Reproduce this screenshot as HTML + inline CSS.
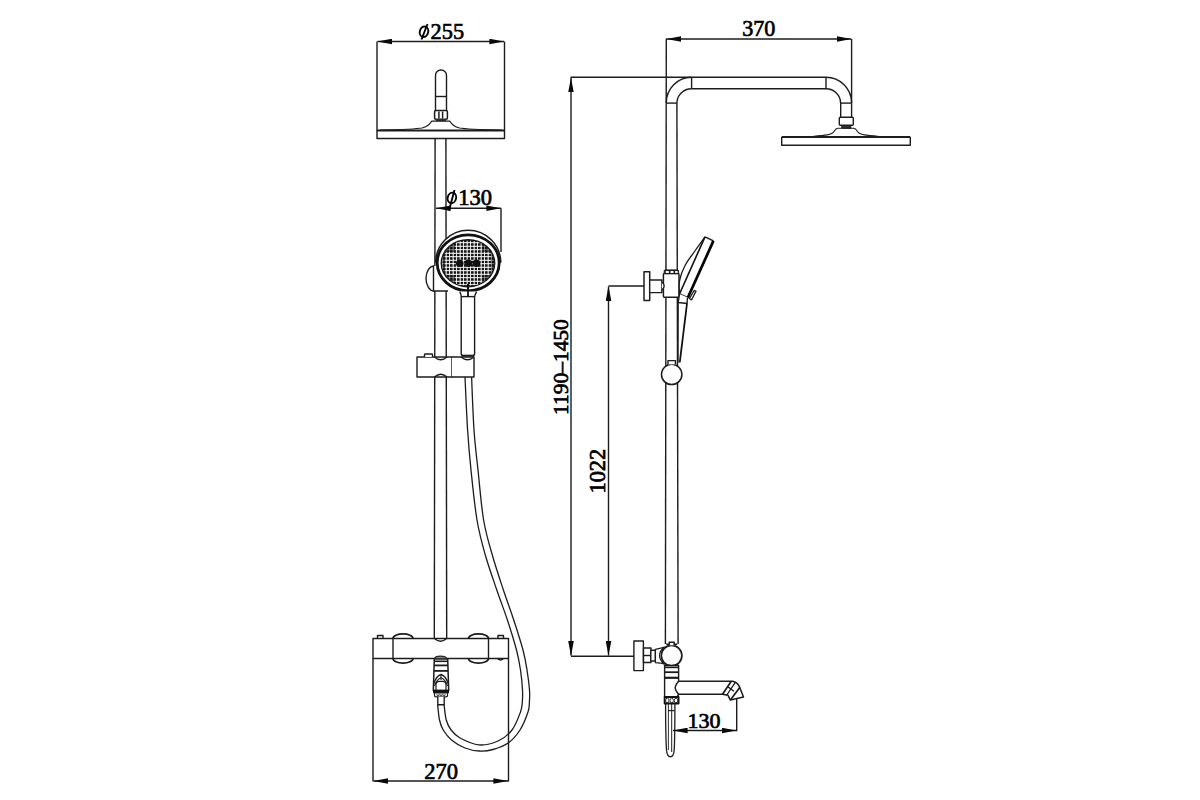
<!DOCTYPE html>
<html><head><meta charset="utf-8"><title>Shower system drawing</title>
<style>
html,body{margin:0;padding:0;background:#fff;width:1200px;height:800px;overflow:hidden}
svg{display:block}
text{font-family:"Liberation Serif",serif;fill:#000}
</style></head>
<body>
<svg width="1200" height="800" viewBox="0 0 1200 800">
<defs>
<marker id="ar" viewBox="0 0 15 6" refX="14.6" refY="3" markerWidth="15" markerHeight="6" markerUnits="userSpaceOnUse" orient="auto-start-reverse"><path d="M0,0.2 L15,3 L0,5.8 z" fill="#0a0a0a"/></marker>
<pattern id="grid" width="3.5" height="3.5" patternUnits="userSpaceOnUse" x="1.2" y="0.8"><path d="M0,0H3.5M0,0V3.5" stroke="#fff" stroke-width="0.8" fill="none"/></pattern>
<pattern id="grid2" width="3.5" height="3.5" patternUnits="userSpaceOnUse" x="1.2" y="0.8"><path d="M0,0H3.5M0,0V3.5" stroke="#fff" stroke-width="1.6" fill="none"/></pattern>
<mask id="ring"><rect x="455" y="241" width="27" height="44" rx="3" fill="#fff"/><rect x="445" y="252" width="46" height="23" rx="3" fill="#fff"/></mask>
<clipPath id="faceclip"><ellipse cx="467.5" cy="264.5" rx="28.5" ry="26.5"/></clipPath>
</defs>
<g fill="none" stroke="#1c1c1c" stroke-width="1.4" stroke-linejoin="round">

<!-- ================= LEFT VIEW ================= -->
<!-- dimension phi255 -->
<line x1="377" y1="41.5" x2="377" y2="131"/>
<line x1="504.5" y1="41.5" x2="504.5" y2="131"/>
<line x1="377.5" y1="41.5" x2="504" y2="41.5" marker-start="url(#ar)" marker-end="url(#ar)"/>

<!-- overhead shower head (front) -->
<path d="M435.5,111 V75.5 A5.5,5.5 0 0 1 446.5,75.5 V111"/>
<line x1="435.5" y1="96.5" x2="446.5" y2="96.5"/>
<rect x="434.6" y="110.6" width="12.8" height="8.6" rx="1.2" stroke-width="1.5"/>
<line x1="438.9" y1="111.5" x2="438.9" y2="118.5" stroke-width="1.5"/>
<line x1="442.6" y1="111.5" x2="442.6" y2="118.5" stroke-width="1.5"/>
<rect x="436" y="119.2" width="10" height="1.9" fill="#333" stroke="none"/>
<path d="M380,130 C400,129.6 415,129.3 422,128 C428,126.5 430.3,123.5 431.6,121.2 H449.9 C451.2,123.5 453.5,126.5 459.5,128 C466.5,129.3 481,129.6 502,130" stroke-width="1.2"/>
<line x1="377" y1="130.5" x2="504.5" y2="130.5" stroke-width="2.2"/>
<path d="M377,130.5 V138.5 H504.5 V130.5"/>

<!-- vertical rail -->
<line x1="435.1" y1="138.5" x2="434.3" y2="641"/>
<line x1="445.9" y1="138.5" x2="446.7" y2="641"/>

<!-- dimension phi130 -->
<line x1="436" y1="208.2" x2="501" y2="208.2" marker-start="url(#ar)" marker-end="url(#ar)"/>
<line x1="501" y1="208.2" x2="501" y2="252"/>

<!-- holder on rail behind head -->
<path d="M434,266 A8,12.5 0 0 0 434,291 Z" fill="#fff"/>
<rect x="433.5" y="266" width="15" height="25" fill="#fff" stroke="none"/>
<path d="M433.5,266 V291 H448"/>

<!-- hand shower head -->
<path d="M435.6,262.8 A32.6,32.6 0 0 1 500.8,262.8" stroke-width="1.5" fill="#fff"/>
<ellipse cx="468.2" cy="262.8" rx="31" ry="28" fill="#fff" stroke="#111" stroke-width="2.8"/>
<ellipse cx="468" cy="263.2" rx="27.4" ry="24.2" fill="#161616" stroke="none"/>
<ellipse cx="468" cy="263.2" rx="26.2" ry="23" fill="url(#grid)" stroke="none"/>
<ellipse cx="468" cy="263.2" rx="26.2" ry="23" fill="url(#grid2)" stroke="none" mask="url(#ring)"/>
<g fill="#111" stroke="none">
<circle cx="459.7" cy="263.3" r="3.8"/>
<circle cx="468.3" cy="263.3" r="3.8"/>
<circle cx="476.4" cy="263.3" r="3.8"/>
</g>
<line x1="468" y1="284" x2="468" y2="296.5" stroke="#111" stroke-width="2"/>
<!-- neck + handle -->
<path d="M459.8,291.6 C460.8,293.5 461.2,295.5 461.2,297 V353.8 Q461.2,355.6 463,355.6 H472.8 Q474.6,355.6 474.6,353.8 V297 C474.8,295.5 475.5,293.5 476.6,291.6" fill="#fff"/>
<line x1="462" y1="355.6" x2="474" y2="355.6" stroke-width="1.8"/>
<line x1="461.2" y1="296.6" x2="474.8" y2="296.6"/>
<line x1="468" y1="286" x2="468" y2="297" stroke="#111" stroke-width="1.8"/>

<!-- slide holder -->
<path d="M417,357 H452 V377 H417 Z" fill="#fff"/>
<path d="M452,357 H474 V377 H452" fill="#fff"/>
<path d="M434.5,357 Q440.75,362.5 447,357"/>
<path d="M434.5,377 Q440.75,371.5 447,377"/>
<path d="M461,357 Q467.5,362.5 474,357"/>
<path d="M424.5,357 V354.5 Q424.5,354 425.5,354 H431.5 Q432.5,354 432.5,354.5 V357" fill="#fff"/>

<!-- hose -->
<path d="M465.00,377.00 C465.43,385.83 466.60,414.50 467.60,430.00 C468.60,445.50 469.43,455.00 471.00,470.00 C472.57,485.00 474.62,505.83 477.00,520.00 C479.38,534.17 482.00,543.33 485.30,555.00 C488.60,566.67 493.12,579.17 496.80,590.00 C500.48,600.83 504.12,610.00 507.40,620.00 C510.68,630.00 514.32,641.67 516.50,650.00 C518.68,658.33 519.50,663.33 520.50,670.00 C521.50,676.67 522.20,684.67 522.50,690.00 C522.80,695.33 522.63,698.33 522.30,702.00 C521.97,705.67 522.22,707.33 520.50,712.00 C518.78,716.67 515.75,725.17 512.00,730.00 C508.25,734.83 503.50,738.52 498.00,741.00 C492.50,743.48 485.33,745.40 479.00,744.90 C472.67,744.40 464.65,740.48 460.00,738.00 C455.35,735.52 453.39,733.00 451.10,730.00 C448.81,727.00 447.43,724.32 446.25,720.00 C445.07,715.68 444.38,706.75 444.00,704.10" stroke-width="1.3"/>
<path d="M471.60,377.00 C472.00,385.83 472.93,414.50 474.00,430.00 C475.07,445.50 476.40,455.00 478.00,470.00 C479.60,485.00 481.22,505.83 483.60,520.00 C485.98,534.17 489.00,543.33 492.30,555.00 C495.60,566.67 499.82,579.17 503.40,590.00 C506.97,600.83 510.48,610.00 513.75,620.00 C517.02,630.00 520.79,641.67 523.00,650.00 C525.21,658.33 525.92,663.33 527.00,670.00 C528.08,676.67 529.10,684.67 529.50,690.00 C529.90,695.33 529.65,698.33 529.40,702.00 C529.15,705.67 529.57,707.33 528.00,712.00 C526.43,716.67 523.25,724.88 520.00,730.00 C516.75,735.12 513.00,739.50 508.50,742.75 C504.00,746.00 497.88,748.12 493.00,749.50 C488.12,750.88 483.92,751.25 479.25,751.00 C474.58,750.75 469.62,749.83 465.00,748.00 C460.38,746.17 455.12,743.00 451.50,740.00 C447.88,737.00 445.25,733.33 443.25,730.00 C441.25,726.67 440.44,724.32 439.50,720.00 C438.56,715.68 437.92,706.75 437.60,704.10" stroke-width="1.3"/>

<!-- mixer -->
<rect x="373" y="638.5" width="135.5" height="20" fill="#fff"/>
<line x1="393" y1="638.5" x2="393" y2="658.5"/>
<line x1="488.5" y1="638.5" x2="488.5" y2="658.5"/>
<path d="M393,638.5 A10,4.6 0 0 1 413,638.5" stroke-width="1.7"/>
<path d="M393,658.5 A10,4.6 0 0 0 413,658.5" stroke-width="1.7"/>
<path d="M468.5,638.5 A10,4.6 0 0 1 488.5,638.5" stroke-width="1.7"/>
<path d="M468.5,658.5 A10,4.6 0 0 0 488.5,658.5" stroke-width="1.7"/>
<path d="M434.5,638.5 Q440.5,644 446.5,638.5"/>
<path d="M377.5,638.5 V635.5 H383 V638.5" />
<path d="M498,638.5 V635.5 H503.5 V638.5" />
<path d="M497.5,658.5 Q500.5,661.5 503.5,658.5" stroke-width="1.2"/>

<!-- diverter -->
<path d="M434.5,659 Q435,656.2 440.3,656.2 Q446,656.2 446.8,659" fill="#888" stroke="#222" stroke-width="1.2"/>
<path d="M434.3,659 L433.3,690.5 H448.7 L447.7,659 Z" fill="#fff" stroke-width="1.5"/>
<line x1="434.2" y1="661.3" x2="447.8" y2="661.3" stroke-width="1.6"/>
<line x1="434" y1="665.4" x2="448" y2="665.4" stroke-width="1.8"/>
<line x1="433.8" y1="670.9" x2="448.2" y2="670.9" stroke-width="1.8"/>
<path d="M434,683.5 Q436,676 441,674.5 Q446,676 448,683.5" stroke-width="1.4"/>
<path d="M434.5,686 Q437,679 441,677.8 Q445,679 447.5,686" stroke-width="1.1"/>
<line x1="441" y1="674.5" x2="441" y2="680" stroke-width="1.1"/>
<path d="M436,690.5 V684.5 Q436,681.4 439,681.4 H443 Q446,681.4 446,684.5 V690.5" stroke-width="1.2"/>
<rect x="433.5" y="690.3" width="15" height="2.6" fill="#111" stroke="#111" stroke-width="1"/>
<path d="M434.5,692.6 V695.5 Q434.5,696.8 436,696.8 H446 Q447.5,696.8 447.5,695.5 V692.6" stroke-width="1.2"/>
<path d="M437,693.5 V695.5 H439 V693.5 M440,693.5 V695.5 H442 V693.5 M443,693.5 V695.5 H445 V693.5" stroke-width="0.7"/>
<path d="M437.8,696.8 V704.7 H444.2 V696.8" fill="#fff"/>

<!-- ================= RIGHT VIEW ================= -->
<!-- dimension 370 -->
<line x1="666.3" y1="38.5" x2="665.4" y2="644"/>
<line x1="851.6" y1="39" x2="851.6" y2="103"/>
<line x1="666.75" y1="39" x2="851.1" y2="39" marker-start="url(#ar)" marker-end="url(#ar)"/>
<!-- top extension (1190-1450) -->
<line x1="570.6" y1="77.3" x2="691.6" y2="77.3"/>
<!-- arm -->
<line x1="691.6" y1="77.3" x2="826" y2="77.3"/>
<line x1="691.6" y1="88.75" x2="826" y2="88.75"/>
<line x1="691.6" y1="77.3" x2="691.6" y2="88.75"/>
<line x1="826" y1="77.3" x2="826" y2="88.75"/>
<path d="M666.25,103.1 A25.35,25.8 0 0 1 691.6,77.3"/>
<path d="M676.9,103.1 A14.7,14.35 0 0 1 691.6,88.75"/>
<line x1="666.25" y1="103.1" x2="676.9" y2="103.1"/>
<path d="M826,77.3 A25.6,25.8 0 0 1 851.6,103.1"/>
<path d="M826,88.75 A14.6,14.35 0 0 1 840.6,103.1"/>
<line x1="840.6" y1="103.1" x2="851.6" y2="103.1"/>
<line x1="676.9" y1="103.1" x2="678.1" y2="644"/>
<!-- overhead head side -->
<line x1="840.7" y1="103.1" x2="840.7" y2="117.3"/>
<line x1="851.6" y1="103.1" x2="851.6" y2="117.3"/>
<rect x="839.3" y="117.3" width="14" height="8" rx="1"/>
<rect x="841.8" y="125.6" width="9" height="2.6" fill="#333" stroke-width="1"/>
<path d="M812,136.5 C825,135.5 832,135 834,131.5 C835.5,129 836,128.3 838,128.3 H853.5 C855.5,128.3 856,129 857.5,131.5 C859.5,135 867,135.5 880,136.5" stroke-width="1.1"/>
<line x1="781.7" y1="137" x2="910.3" y2="137" stroke-width="2.2"/>
<path d="M781.7,137 V145.3 H910.3 V137"/>

<!-- dimension 1190-1450 -->
<line x1="571" y1="77.8" x2="571" y2="655.6" marker-start="url(#ar)" marker-end="url(#ar)"/>
<line x1="571" y1="656.25" x2="634" y2="656.25"/>
<!-- dimension 1022 -->
<line x1="608.5" y1="286.5" x2="608.5" y2="655.6" marker-start="url(#ar)" marker-end="url(#ar)"/>
<line x1="608.5" y1="286" x2="644.3" y2="286"/>

<!-- upper wall bracket -->
<rect x="644" y="271.7" width="5.7" height="28.7" fill="#fff" stroke-width="1.5"/>
<rect x="649.7" y="280" width="12.1" height="12.6" fill="#fff"/>
<rect x="663.4" y="273.6" width="15.6" height="23.6" rx="1" fill="#fff" stroke-width="1.5"/>
<path d="M661.8,282 Q666.5,286 661.8,290" stroke-width="1.3" fill="#fff"/>
<rect x="664.2" y="269.9" width="14.4" height="3.7" rx="1" fill="#1a1a1a" stroke-width="1"/>
<g fill="#fff" stroke="none"><rect x="665.6" y="271" width="3.4" height="2" rx="0.8"/><rect x="670.3" y="271" width="3.4" height="2" rx="0.8"/><rect x="675" y="271" width="2.8" height="2" rx="0.8"/></g>

<!-- hand shower side -->
<path d="M705.00,236.90 C703.43,239.08 698.88,245.32 695.60,250.00 C692.32,254.68 687.95,260.00 685.30,265.00 C682.65,270.00 680.67,275.17 679.70,280.00 C678.73,284.83 679.53,291.67 679.50,294.00 L687.5,297.5 L713.4,240.9 Z" fill="#fff" stroke="none"/>
<path d="M705.00,236.90 C703.43,239.08 698.88,245.32 695.60,250.00 C692.32,254.68 687.95,260.00 685.30,265.00 C682.65,270.00 680.67,275.17 679.70,280.00 C678.73,284.83 679.53,291.67 679.50,294.00" stroke-width="1.3"/>
<path d="M705,236.9 L713.4,240.9" stroke-width="1.5"/>
<path d="M713.4,240.9 L687.8,297.8" stroke="#000" stroke-width="2.7"/>
<path d="M705,236.9 L679.5,294" stroke="#111" stroke-width="1.6"/>
<path d="M679.5,294 L687.5,297.5" stroke-width="1.5"/>
<path d="M694.2,290.5 L696,291.3 L691.6,299.8 L689.4,298.5 Z" stroke-width="1.4" fill="#fff"/>
<path d="M679.5,294 L678.2,302.5 L687,303.5 L687.5,297.5" fill="#fff" stroke-width="1.4"/>
<path d="M678.2,302.5 L678,362.5" stroke-width="1.3"/>
<path d="M687,303.5 L679.75,362.5" stroke="#111" stroke-width="1.8"/>

<!-- lower slide (circle) -->
<circle cx="671.7" cy="374.4" r="10.2" fill="#fff" stroke-width="1.5"/>
<path d="M668,364.4 V360.6 H675.4 V364.4" fill="#fff"/>

<!-- lower wall bracket + thermostatic valve -->
<rect x="633.9" y="641" width="9.5" height="29.6" fill="#fff"/>
<rect x="643.5" y="648" width="7.5" height="14.5" fill="#fff"/>
<line x1="643.5" y1="655.5" x2="651" y2="655.5"/>
<rect x="650.8" y="650.2" width="4.6" height="10.8" fill="#fff"/>
<path d="M655.4,649.4 L663,647.6 L663,663.4 L655.4,662.6 Z" fill="#fff" stroke-width="1.3"/>
<path d="M664.5,646.5 Q654.5,655.6 664.5,664.7" stroke-width="1.2"/>
<path d="M666.25,644 L670,645 M677.2,644 L673,645"/>
<circle cx="671.6" cy="655.6" r="10.3" fill="#fff" stroke-width="1.7"/>
<path d="M669.2,645.3 V642.2 H674.2 V645.3" fill="#fff" stroke-width="1.5"/>
<!-- body -->
<path d="M664.6,665.5 H678.6 V694.5 L677,697 H664.6 Z" fill="#fff"/>
<line x1="664.6" y1="667.4" x2="678.6" y2="667.4" stroke-width="1.6"/>
<line x1="664.6" y1="672.2" x2="678.6" y2="672.2" stroke-width="1.8"/>
<line x1="664.6" y1="677.8" x2="678.6" y2="677.8" stroke-width="2.2"/>
<!-- spout -->
<path d="M678.6,681.2 H732.6 Q737.5,682 739.75,687.4 L743.5,697.1 L730.4,700.1 L728,695.3 L722.5,694.3 H678.6 Q675.2,690 675.2,687.7 Q675.2,685.3 678.6,681.2" fill="#fff" stroke-width="1.5"/>
<path d="M722.5,694.3 L731.3,681.2" stroke-width="1.7"/>
<path d="M726.8,695 L735.3,682.3" stroke-width="1.3"/>
<path d="M730.4,700.1 L739.75,687.4" stroke-width="1.7"/>
<path d="M727.6,686.6 L734,691.2" stroke-width="1.3"/>

<!-- hose connection bottom -->
<rect x="664.6" y="697" width="14" height="6.5" fill="#fff" stroke="#111" stroke-width="1.8"/>
<ellipse cx="667.3" cy="700.5" rx="1.7" ry="2.4" stroke-width="0.9"/>
<ellipse cx="671.7" cy="700.5" rx="1.7" ry="2.4" stroke-width="0.9"/>
<ellipse cx="676" cy="700.5" rx="1.7" ry="2.4" stroke-width="0.9"/>
<path d="M665.6,703.5 C665.6,725 665.8,740 666.5,750 C667.3,759 673.5,759 674.2,750 C674.8,740 674.9,725 674.9,703.5" stroke-width="1.3"/>
<path d="M668.4,704 V750" stroke-width="0.9"/>
<path d="M671.7,704 V752" stroke-width="1"/>
<line x1="668" y1="710.6" x2="674.5" y2="710.6" stroke-width="1.2"/>

<!-- dimension 130 -->
<line x1="736.7" y1="698.8" x2="736.7" y2="731.25"/>
<line x1="673" y1="730.5" x2="736.2" y2="730.5" marker-start="url(#ar)" marker-end="url(#ar)"/>

<!-- dimension 270 -->
<line x1="373" y1="658.5" x2="373" y2="781.6"/>
<line x1="508.5" y1="658.5" x2="508.5" y2="781.6"/>
<line x1="373.5" y1="781" x2="508" y2="781" marker-start="url(#ar)" marker-end="url(#ar)"/>

</g>
<g stroke="#000" stroke-width="0.7">
<text x="430.6" y="38.8" font-size="22.3">255</text>
<text x="458.2" y="205" font-size="22.5">130</text>
<text x="742.3" y="35.9" font-size="23" transform="translate(742.3 0) scale(0.96 1) translate(-742.3 0)">370</text>
<text x="424.3" y="778.6" font-size="23" transform="translate(424.3 0) scale(0.98 1) translate(-424.3 0)">270</text>
<text x="687.5" y="727.7" font-size="22">130</text>
<text transform="translate(567.7,414.9) rotate(-90) scale(0.975 1)" font-size="22">1190&#8211;1450</text>
<text transform="translate(605.3,493.5) rotate(-90)" font-size="22.3">1022</text>
</g>
<g fill="none" stroke="#000">
<ellipse cx="424" cy="31.75" rx="4.2" ry="5.3" transform="rotate(15 424 31.75)" stroke-width="1.9"/>
<line x1="427.5" y1="24" x2="421.5" y2="39.5" stroke-width="1.9"/>
<ellipse cx="451.9" cy="197.9" rx="4.2" ry="5.3" transform="rotate(15 451.9 197.9)" stroke-width="1.9"/>
<line x1="454.5" y1="190" x2="449" y2="210.5" stroke-width="1.9"/>
</g>
</svg>
</body></html>
